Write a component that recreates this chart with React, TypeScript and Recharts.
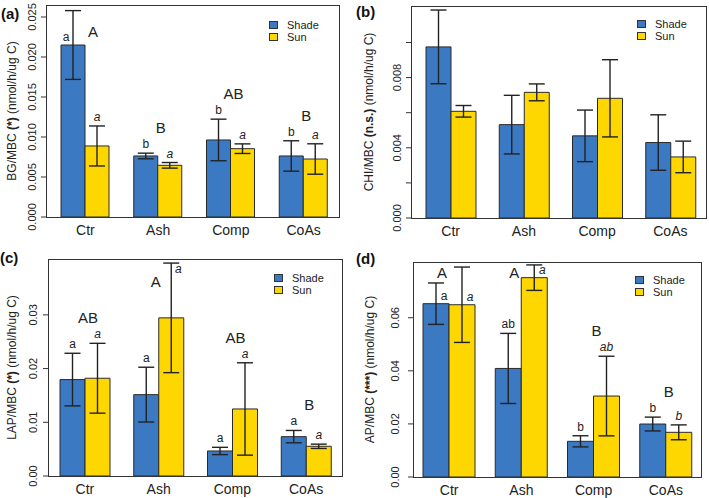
import React from "react";
import { BarChart, Bar, XAxis, YAxis, ErrorBar, LabelList, Legend } from "recharts";

const FONT = '"Liberation Sans", Arial, Helvetica, sans-serif';
const BLUE = "#3b79c3";
const YELLOW = "#ffd700";
const INK = "#222";

const categories = ["Ctr", "Ash", "Comp", "CoAs"];
const seriesNames = ["Shade", "Sun"];

// (a) BG/MBC
const bgShade = [0.0215, 0.00763, 0.00963, 0.00763];
const bgShadeErr = [0.0043, 0.00035, 0.0026, 0.0019];
const bgSun = [0.00888, 0.00646, 0.00854, 0.00725];
const bgSunErr = [0.0025, 0.00035, 0.0006, 0.0019];
const bgShadeLetters = ["a", "b", "b", "b"];
const bgSunLetters = ["a", "a", "a", "a"];
const bgGroupLetters = ["A", "B", "AB", "B"];
const bgTicks = [0, 0.005, 0.01, 0.015, 0.02, 0.025];

// (b) CHI/MBC
const chiShade = [0.00975, 0.00532, 0.00468, 0.0043];
const chiShadeErr = [0.0021, 0.00167, 0.00147, 0.00158];
const chiSun = [0.00608, 0.00716, 0.00682, 0.00348];
const chiSunErr = [0.00033, 0.00048, 0.0022, 0.0009];
const chiTicks = [0, 0.002, 0.004, 0.006, 0.008, 0.01];
const chiTickLabels = [0, 0.004, 0.008];

// (c) LAP/MBC
const lapShade = [0.01795, 0.01515, 0.00466, 0.00733];
const lapShadeErr = [0.0049, 0.0051, 0.00068, 0.00115];
const lapSun = [0.0182, 0.02944, 0.01248, 0.00553];
const lapSunErr = [0.0065, 0.0102, 0.0086, 0.0004];
const lapShadeLetters = ["a", "a", "a", "a"];
const lapSunLetters = ["a", "a", "a", "a"];
const lapGroupLetters = ["AB", "A", "AB", "B"];
const lapTicks = [0, 0.01, 0.02, 0.03];

// (d) AP/MBC
const apShade = [0.0653, 0.0409, 0.01344, 0.01996];
const apShadeErr = [0.0078, 0.0132, 0.0021, 0.0026];
const apSun = [0.0649, 0.0751, 0.0305, 0.01683];
const apSunErr = [0.0142, 0.0048, 0.015, 0.0028];
const apShadeLetters = ["a", "ab", "b", "b"];
const apSunLetters = ["a", "a", "ab", "b"];
const apGroupLetters = ["A", "A", "B", "B"];
const apTicks = [0, 0.02, 0.04, 0.06];

type Panel = {
  tag: string;
  left: number;
  top: number;
  width: number;
  height: number;
  title: [string, string, string];
  shade: number[];
  shadeErr: number[];
  sun: number[];
  sunErr: number[];
  shadeLetters?: string[];
  sunLetters?: string[];
  groupLetters?: string[];
  ticks: number[];
  tickLabels: number[];
  digits: number;
  yMax: number;
  plot: { l: number; t: number; r: number; b: number };
  tickX: number;
  titleX: number;
  tagX: number;
  tagY: number;
  legend: { x: number; y: number };
  padL: number;
  gap: number;
  crowd: { dx: number; drop: number };
  sideLeft: string[];
  atCap: string[];
};

const panels: Panel[] = [
  {
    tag: "(a)", left: 0, top: 0, width: 354, height: 249,
    title: ["BG/MBC ", "(*)", " (nmol/h/ug C)"],
    shade: bgShade, shadeErr: bgShadeErr, sun: bgSun, sunErr: bgSunErr,
    shadeLetters: bgShadeLetters, sunLetters: bgSunLetters, groupLetters: bgGroupLetters,
    ticks: bgTicks, tickLabels: bgTicks, digits: 3, yMax: 0.0265,
    plot: { l: 46, t: 5, r: 340, b: 217 },
    tickX: 32, titleX: 12, tagX: 1, tagY: 19,
    legend: { x: 269, y: 19 }, padL: 3, gap: 12,
    crowd: { dx: 8, drop: 32 }, sideLeft: ["shade-0"], atCap: [],
  },
  {
    tag: "(b)", left: 354, top: 0, width: 355, height: 249,
    title: ["CHI/MBC ", "(n.s.)", " (nmol/h/ug C)"],
    shade: chiShade, shadeErr: chiShadeErr, sun: chiSun, sunErr: chiSunErr,
    ticks: chiTicks, tickLabels: chiTickLabels, digits: 3, yMax: 0.01208,
    plot: { l: 57, t: 6, r: 353, b: 218 },
    tickX: 43, titleX: 15, tagX: 2, tagY: 17,
    legend: { x: 283, y: 18 }, padL: 3, gap: 12,
    crowd: { dx: 0, drop: 30 }, sideLeft: [], atCap: [],
  },
  {
    tag: "(c)", left: 0, top: 249, width: 354, height: 249,
    title: ["LAP/MBC ", "(*)", " (nmol/h/ug C)"],
    shade: lapShade, shadeErr: lapShadeErr, sun: lapSun, sunErr: lapSunErr,
    shadeLetters: lapShadeLetters, sunLetters: lapSunLetters, groupLetters: lapGroupLetters,
    ticks: lapTicks, tickLabels: lapTicks, digits: 2, yMax: 0.0404,
    plot: { l: 48, t: 10, r: 343, b: 227 },
    tickX: 33, titleX: 12, tagX: 0, tagY: 14,
    legend: { x: 274, y: 23 }, padL: 0, gap: 12,
    crowd: { dx: -3, drop: 28 }, sideLeft: [], atCap: ["sun-1"],
  },
  {
    tag: "(d)", left: 354, top: 249, width: 355, height: 249,
    title: ["AP/MBC ", "(***)", " (nmol/h/ug C)"],
    shade: apShade, shadeErr: apShadeErr, sun: apSun, sunErr: apSunErr,
    shadeLetters: apShadeLetters, sunLetters: apSunLetters, groupLetters: apGroupLetters,
    ticks: apTicks, tickLabels: apTicks, digits: 2, yMax: 0.081,
    plot: { l: 59, t: 13, r: 348, b: 228 },
    tickX: 41, titleX: 16, tagX: 2, tagY: 15,
    legend: { x: 281, y: 25 }, padL: 0, gap: 10,
    crowd: { dx: -7, drop: 16 }, sideLeft: [], atCap: [],
  },
];

// letters above the error bars, computed from the bar geometry Recharts hands the label
function letterContent(p: Panel, which: "shade" | "sun") {
  return (props: any) => {
    const vb = props.viewBox ?? props;
    const i = categories.indexOf(props.value);
    if (i < 0 || !vb) return null;
    const vals = which === "shade" ? p.shade : p.sun;
    const errs = which === "shade" ? p.shadeErr : p.sunErr;
    const letters = which === "shade" ? p.shadeLetters : p.sunLetters;
    const { x, y, width, height } = vb;
    const k = height / vals[i];
    const zero = y + height;
    const cx = x + width / 2;
    const errTop = zero - (vals[i] + errs[i]) * k;
    const key = `${which}-${i}`;
    let lx = cx;
    let ly = errTop - 5;
    if (errTop < p.plot.t + 25) {
      if (p.atCap.includes(key)) {
        lx = cx + 7;
        ly = errTop + 10;
      } else if (p.sideLeft.includes(key)) {
        lx = cx - 7;
        ly = y - 4;
      } else {
        lx = cx + 8;
        ly = y - 4;
      }
    }
    const out: React.ReactNode[] = [];
    if (letters) {
      out.push(
        <text key="l" x={lx} y={ly} textAnchor="middle" fontFamily={FONT} fontSize={12}
          fill={INK} fontStyle={which === "sun" ? "italic" : "normal"}>
          {letters[i]}
        </text>
      );
    }
    if (which === "shade" && p.groupLetters) {
      const sunTop = zero - (p.sun[i] + p.sunErr[i]) * k;
      const top = Math.min(errTop, sunTop);
      const gx = x + width;
      let gxx = gx + 3;
      let gy = top - 20;
      if (top < p.plot.t + 25) {
        gxx = gx + p.crowd.dx;
        gy = p.plot.t + p.crowd.drop;
      }
      out.push(
        <text key="g" x={gxx} y={gy} textAnchor="middle" fontFamily={FONT} fontSize={15} fill={INK}>
          {p.groupLetters[i]}
        </text>
      );
    }
    return <g>{out}</g>;
  };
}

function LegendBox() {
  const fills = [BLUE, YELLOW];
  return (
    <div style={{ fontFamily: FONT, fontSize: 11, color: INK }}>
      {seriesNames.map((n, i) => (
        <div key={n} style={{ display: "flex", alignItems: "center", height: 12, whiteSpace: "nowrap" }}>
          <span
            style={{
              display: "inline-block", width: 9, height: 8, background: fills[i],
              border: "1px solid #333", boxSizing: "border-box", marginRight: 9,
            }}
          />
          {n}
        </div>
      ))}
    </div>
  );
}

function PanelChart({ p }: { p: Panel }) {
  const data = categories.map((name, i) => ({
    name,
    shade: p.shade[i],
    shadeErr: p.shadeErr[i],
    sun: p.sun[i],
    sunErr: p.sunErr[i],
  }));
  const midY = (p.plot.t + p.plot.b) / 2;

  const yTick = (t: any) => {
    const v = t.payload.value;
    const show = p.tickLabels.some((l) => Math.abs(l - v) < 1e-9);
    if (!show) return <g />;
    return (
      <text transform={`translate(${p.tickX},${t.y}) rotate(-90)`} textAnchor="middle" dy="0.35em"
        fontFamily={FONT} fontSize={11} fill={INK}>
        {v.toFixed(p.digits)}
      </text>
    );
  };

  const xTick = (t: any) => (
    <text x={t.x} y={p.plot.b + 18} textAnchor="middle" fontFamily={FONT} fontSize={14} fill={INK}>
      {t.payload.value}
    </text>
  );

  const titleContent = () => (
    <g>
      <text transform={`translate(${p.titleX},${midY}) rotate(-90)`} textAnchor="middle" dy="0.35em"
        fontFamily={FONT} fontSize={12} fill={INK}>
        <tspan>{p.title[0]}</tspan>
        <tspan fontWeight="bold">{p.title[1]}</tspan>
        <tspan>{p.title[2]}</tspan>
      </text>
      <text x={p.tagX} y={p.tagY} fontFamily={FONT} fontSize={15} fontWeight="bold" fill="#111">
        {p.tag}
      </text>
    </g>
  );

  return (
    <div style={{ position: "absolute", left: p.left, top: p.top, width: p.width, height: p.height }}>
      <BarChart
        width={p.width}
        height={p.height}
        data={data}
        margin={{ top: p.plot.t, right: p.width - p.plot.r, bottom: 0, left: 0 }}
        barGap={0}
        barCategoryGap={p.gap}
      >
        <XAxis
          dataKey="name"
          height={p.height - p.plot.b}
          axisLine={false}
          tickLine={false}
          tickSize={0}
          interval={0}
          tick={xTick}
          padding={{ left: p.padL, right: 0 }}
        />
        <YAxis
          width={p.plot.l}
          type="number"
          domain={[0, p.yMax]}
          allowDataOverflow
          ticks={p.ticks}
          interval={0}
          axisLine={false}
          tickSize={5}
          tickLine={{ stroke: "#333" }}
          tick={yTick}
          label={{ content: titleContent }}
        />
        <Bar dataKey="shade" name="Shade" fill={BLUE} stroke="#2a2a2a" strokeWidth={1} isAnimationActive={false}>
          <ErrorBar dataKey="shadeErr" width={8} stroke={INK} strokeWidth={1.4} />
          <LabelList dataKey="name" content={letterContent(p, "shade")} />
        </Bar>
        <Bar dataKey="sun" name="Sun" fill={YELLOW} stroke="#2a2a2a" strokeWidth={1} isAnimationActive={false}>
          <ErrorBar dataKey="sunErr" width={8} stroke={INK} strokeWidth={1.4} />
          <LabelList dataKey="name" content={letterContent(p, "sun")} />
        </Bar>
        <Legend
          layout="vertical"
          align="center"
          verticalAlign="middle"
          wrapperStyle={{ left: p.legend.x, top: p.legend.y, width: "auto" }}
          content={() => <LegendBox />}
        />
      </BarChart>
      <div
        style={{
          position: "absolute", left: p.plot.l, top: p.plot.t,
          width: p.plot.r - p.plot.l, height: p.plot.b - p.plot.t + 1,
          border: "1px solid #333", boxSizing: "border-box", pointerEvents: "none",
        }}
      />
    </div>
  );
}

export default function App() {
  return (
    <div style={{ position: "absolute", left: 0, top: 0, width: 709, height: 498, background: "#fff" }}>
      {panels.map((p) => (
        <PanelChart key={p.tag} p={p} />
      ))}
    </div>
  );
}
